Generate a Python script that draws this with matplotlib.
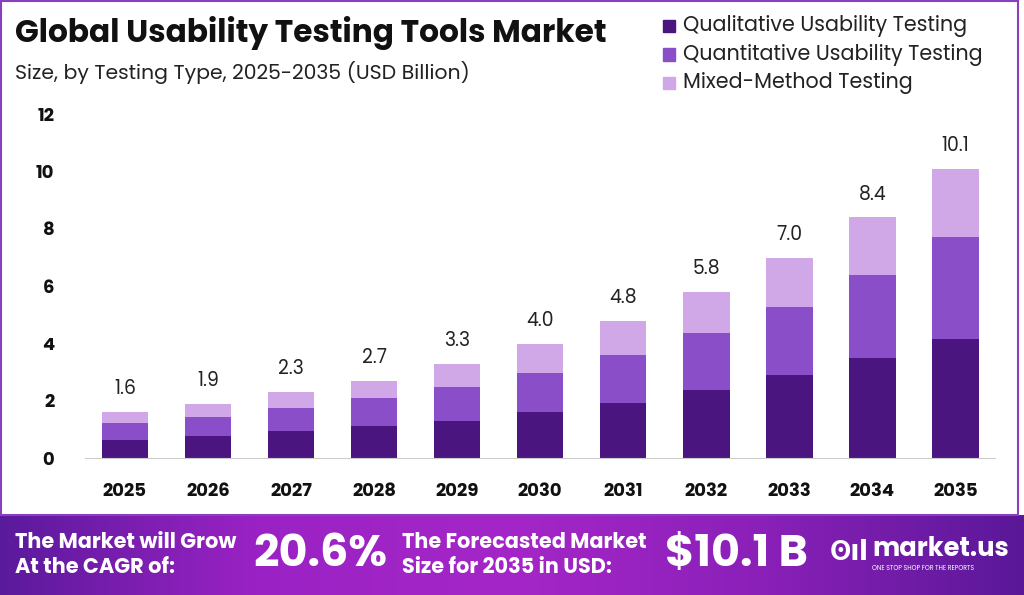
import numpy as np
import matplotlib.pyplot as plt
from matplotlib.patches import Rectangle
from matplotlib.colors import LinearSegmentedColormap

years = ["2025", "2026", "2027", "2028", "2029", "2030", "2031", "2032", "2033", "2034", "2035"]
qualitative = [0.63, 0.77, 0.94, 1.11, 1.31, 1.61, 1.94, 2.37, 2.89, 3.48, 4.17]
quantitative = [0.59, 0.66, 0.80, 0.98, 1.19, 1.37, 1.66, 2.01, 2.40, 2.92, 3.55]
mixed = [0.38, 0.47, 0.56, 0.61, 0.80, 1.02, 1.20, 1.42, 1.71, 2.00, 2.38]
totals = [1.6, 1.9, 2.3, 2.7, 3.3, 4.0, 4.8, 5.8, 7.0, 8.4, 10.1]
series_names = ["Qualitative Usability Testing", "Quantitative Usability Testing", "Mixed-Method Testing"]
colors = ["#4b1580", "#8a4fc8", "#d0a8e8"]

plt.rcParams['font.family'] = ['Poppins', 'Inter', 'DejaVu Sans']

fig = plt.figure(figsize=(10.24, 5.95), dpi=100)
fig.patch.set_facecolor("white")

ax = fig.add_axes([0.083, 0.230, 0.889, 0.578])
x = np.arange(len(years))
bottom = np.zeros(len(years))
for vals, c in zip([qualitative, quantitative, mixed], colors):
    ax.bar(x, vals, bottom=bottom, width=0.56, color=c, zorder=2)
    bottom += np.array(vals)

for xi, t, b in zip(x, totals, bottom):
    ax.text(xi, b + 0.45, f"{t:.1f}", ha="center", va="bottom", fontsize=13.5, color="#222222")

ax.set_ylim(0, 12)
ax.set_xlim(-0.48, 10.48)
ax.set_yticks(range(0, 13, 2))
ax.set_xticks(x)
ax.set_xticklabels(years)
for s in ["top", "right", "left"]:
    ax.spines[s].set_visible(False)
ax.spines["bottom"].set_color("#cccccc")
ax.tick_params(axis="both", length=0, labelsize=13)
ax.tick_params(axis="y", pad=22)
ax.tick_params(axis="x", pad=18)
for lab in ax.get_xticklabels() + ax.get_yticklabels():
    lab.set_fontweight("bold")
    lab.set_color("#111111")

# titles
fig.text(15 / 1024, 1 - 33 / 595, "Global Usability Testing Tools Market", fontsize=22.5,
         fontweight="bold", va="center", ha="left", color="#111111")
fig.text(15 / 1024, 1 - 73 / 595, "Size, by Testing Type, 2025-2035 (USD Billion)", fontsize=14.7,
         va="center", ha="left", color="#222222")

# legend
for i, (name, c) in enumerate(zip(series_names, colors)):
    yy = 1 - (26 + i * 28.5) / 595
    fig.patches.append(Rectangle((663 / 1024, yy - 6 / 595), 12 / 1024, 12 / 595,
                                 transform=fig.transFigure, color=c))
    fig.text(683 / 1024, yy, name, fontsize=14.9, va="center", ha="left", color="#222222")

# border
fig.patches.append(Rectangle((1 / 1024, 80 / 595), 1017 / 1024, 514 / 595, transform=fig.transFigure,
                             fill=False, edgecolor="#8a3fc0", linewidth=1.5))

# bottom banner
bax = fig.add_axes([0, 0, 1, 80 / 595])
cmap = LinearSegmentedColormap.from_list("banner", ["#5a1a9c", "#9a22c4", "#a526c8", "#8a20b8", "#5a1898"])
bax.imshow(np.linspace(0, 1, 256)[None, :], aspect="auto", cmap=cmap, extent=[0, 1, 0, 1])
bax.set_xlim(0, 1)
bax.set_ylim(0, 1)
bax.axis("off")

def btext(px, py, s, size, **kw):
    bax.text(px / 1024, 1 - (py - 515) / 80, s, fontsize=size, color="white",
             fontweight="bold", va="center", ha="left", **kw)

btext(15, 543, "The Market will Grow", 15)
btext(15, 568, "At the CAGR of:", 15)
btext(253, 555, "20.6%", 32)
btext(402, 543, "The Forecasted Market", 15)
btext(402, 568, "Size for 2035 in USD:", 15)
btext(665, 555, "$10.1 B", 32)
btext(830, 553, "ʘıl", 20)
btext(872, 550, "market.us", 18.5)
bax.text(872 / 1024, 1 - (569 - 515) / 80, "ONE STOP SHOP FOR THE REPORTS", fontsize=4.5,
         color="white", va="center", ha="left")

fig.savefig("out.png", dpi=100)
